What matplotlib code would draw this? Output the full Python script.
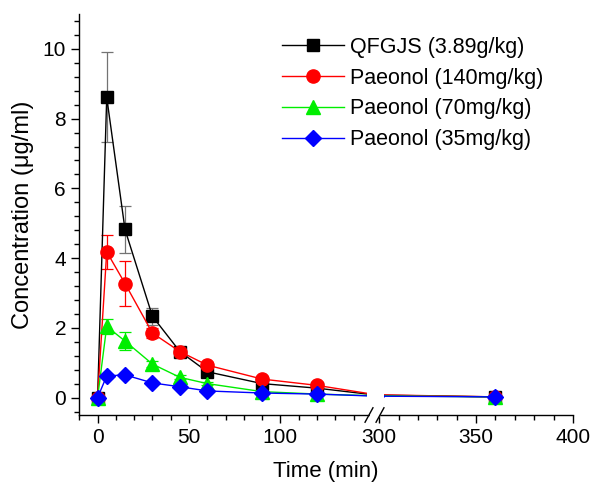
import numpy as np
import matplotlib
matplotlib.use("Agg")
import matplotlib.pyplot as plt
from matplotlib.lines import Line2D

plt.rcParams['font.family'] = ['Liberation Sans', 'DejaVu Sans']

time = [0, 5, 15, 30, 45, 60, 90, 120, 240, 360]
labels = ["QFGJS (3.89g/kg)", "Paeonol (140mg/kg)", "Paeonol (70mg/kg)", "Paeonol (35mg/kg)"]
qfgjs = [0, 8.61, 4.82, 2.33, 1.32, 0.74, 0.40, 0.27, 0.07, 0.02]
qfgjs_sd = [0, 1.29, 0.66, 0.25, 0.12, 0.08, 0.06, 0.05, 0.02, 0.01]
pae140 = [0, 4.18, 3.27, 1.85, 1.32, 0.93, 0.53, 0.35, 0.08, 0.02]
pae140_sd = [0, 0.49, 0.65, 0.15, 0.10, 0.08, 0.06, 0.05, 0.02, 0.01]
pae70 = [0, 2.04, 1.62, 0.96, 0.58, 0.40, 0.17, 0.10, 0.05, 0.02]
pae70_sd = [0, 0.22, 0.25, 0.08, 0.06, 0.05, 0.03, 0.02, 0.01, 0.01]
pae35 = [0, 0.62, 0.65, 0.42, 0.31, 0.19, 0.13, 0.10, 0.04, 0.02]
pae35_sd = [0, 0.05, 0.05, 0.04, 0.03, 0.03, 0.02, 0.02, 0.01, 0.01]
x_major = [0, 50, 100, 300, 350, 400]

def fwd(t):
    t = np.asarray(t, dtype=float)
    return np.where(t <= 150, t,
                    np.where(t < 300, 150 + (t - 150) / 150 * 4,
                             154 + (t - 300) * 1.06))

def inv(u):
    u = np.asarray(u, dtype=float)
    return np.where(u <= 150, u,
                    np.where(u < 154, 150 + (u - 150) / 4 * 150,
                             300 + (u - 154) / 1.06))

fig = plt.figure(figsize=(5.93, 4.86), dpi=100)
ax = fig.add_axes([79.3/593, 1-415/486, (573-79.3)/593, (415-14)/486])
ax.set_xscale('function', functions=(fwd, inv))

series = [
    (qfgjs, qfgjs_sd, 'black', 's', 9, '0.45'),
    (pae140, pae140_sd, 'red', 'o', 9.5, 'red'),
    (pae70, pae70_sd, '#00ee00', '^', 10, '#00ee00'),
    (pae35, pae35_sd, 'blue', 'D', 8.5, 'blue'),
]
handles = []
for (y, sd, c, m, ms, ec), lab in zip(series, labels):
    ax.errorbar(time, y, yerr=sd, fmt='none', ecolor=ec, elinewidth=0.9,
                capsize=4, capthick=0.9, zorder=2)
    ax.plot(time, y, color=c, lw=1.0, marker=m, ms=ms, mfc=c, mec=c, zorder=3)
    handles.append(Line2D([], [], color=c, lw=1.0, marker=m, ms=ms, mfc=c, mec=c))

# gap for axis break
ax.axvspan(147.5, 302.6, ymin=0.003, ymax=1, color='white', zorder=4, lw=0)

ax.set_xlim(-10, 400)
ax.set_ylim(-0.5, 11)
ax.set_xticks(x_major)
ax.set_xticklabels([str(v) for v in x_major])
ax.set_xticks(list(range(-10, 150, 10)) + list(range(300, 401, 10)), minor=True)
ax.set_yticks([0, 2, 4, 6, 8, 10])
ax.set_yticks(np.arange(-0.4, 11, 0.4), minor=True)

for s in ['top', 'right']:
    ax.spines[s].set_visible(False)
for s in ['left', 'bottom']:
    ax.spines[s].set_linewidth(1.0)
ax.tick_params(which='major', direction='out', length=6, width=1.0, labelsize=15)
ax.tick_params(which='minor', direction='out', length=3.5, width=1.0)

# break marks
bx1 = (369 - 79.3) / 493.7
bx2 = (380 - 79.3) / 493.7
ax.plot([bx1 + 0.004, bx2 - 0.004], [0, 0], transform=ax.transAxes, color='white',
        lw=2.5, clip_on=False, zorder=5)
for bx in (bx1, bx2):
    ax.plot([bx - 0.008, bx + 0.008], [-0.018, 0.018], transform=ax.transAxes,
            color='black', lw=1.0, clip_on=False, zorder=6)

ax.set_xlabel("Time (min)", fontsize=16, labelpad=10)
ax.set_ylabel("Concentration (μg/ml)", fontsize=17, labelpad=6)

ax.legend(handles, labels, loc='upper left', bbox_to_anchor=(282/593, 1-37/486),
          bbox_transform=fig.transFigure, frameon=False, fontsize=15.5,
          handlelength=2.9, handletextpad=0.25, labelspacing=0.45, borderpad=0,
          borderaxespad=0)

fig.savefig("out.png", dpi=100)
